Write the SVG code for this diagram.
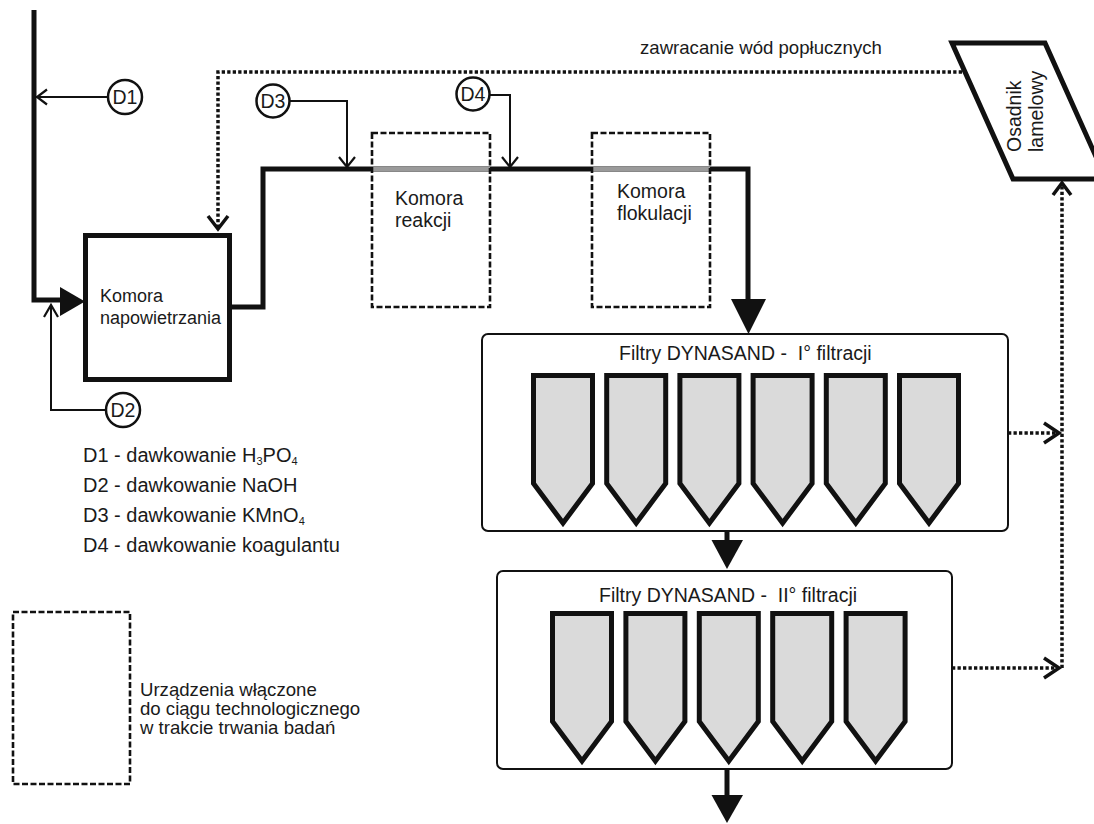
<svg xmlns="http://www.w3.org/2000/svg" xmlns:xlink="http://www.w3.org/1999/xlink" width="1094" height="824" viewBox="0 0 1094 824">
<style>
  text { font-family: "Liberation Sans", Arial, sans-serif; fill: #1a1a1a; white-space: pre; }
  .main { fill: none; stroke: #111; stroke-width: 5; stroke-linejoin: miter; }
  .gray { fill: none; stroke: #9a9a9a; stroke-width: 4; }
  .thin { fill: none; stroke: #111; stroke-width: 2; }
  .chev { fill: none; stroke: #111; stroke-width: 2.2; }
  .chevb { fill: none; stroke: #111; stroke-width: 3.5; }
  .dot { fill: none; stroke: #111; stroke-width: 3.5; stroke-dasharray: 3.3 2.2; }
  .dash { fill: none; stroke: #111; stroke-width: 2.6; stroke-dasharray: 6 2.5; }
  .tri { fill: #111; }
  .circ { fill: #fff; stroke: #111; stroke-width: 2.5; }
  .box { fill: #fff; stroke: #111; stroke-width: 5; }
  .fbox { fill: #fff; stroke: #111; stroke-width: 2; }
  .filt { fill: #dadada; stroke: #111; stroke-width: 5; stroke-linejoin: miter; }
  .lbl { font-size: 18px; }
  .lbl3 { font-size: 18.6px; }
  .leg2 { font-size: 18.6px; }
  .lbl2 { font-size: 19.5px; }
  .dl { font-size: 19.5px; text-anchor: middle; }
  .leg { font-size: 20px; }
  .sub { font-size: 11px; }
</style>
<defs>
  <path id="filter" d="M0,0 H59 V108 L29.5,147.5 L0,108 Z"/>
</defs>

<g id="legend-box">
  <rect class="dash" x="13" y="612" width="117" height="172"/>
  <text class="leg2" x="140" y="696">Urządzenia włączone</text>
  <text class="leg2" x="140" y="715">do ciągu technologicznego</text>
  <text class="leg2" x="140" y="734">w trakcie trwania badań</text>
</g>

<g id="legend-doses">
  <text class="leg" x="83" y="462">D1 - dawkowanie H<tspan class="sub" dy="3">3</tspan><tspan dy="-3">PO</tspan><tspan class="sub" dy="3">4</tspan></text>
  <text class="leg" x="83" y="492">D2 - dawkowanie NaOH</text>
  <text class="leg" x="83" y="522">D3 - dawkowanie KMnO<tspan class="sub" dy="3">4</tspan></text>
  <text class="leg" x="83" y="552">D4 - dawkowanie koagulantu</text>
</g>

<g id="connectors">
  <!-- main flow -->
  <path class="main" d="M34,10 V300 H62"/>
  <polygon class="tri" points="60,287 85,301.5 60,316"/>
  <path class="main" d="M232,307 H263 V169 H748 V300"/>
  <line class="gray" x1="373" y1="169" x2="490" y2="169"/>
  <line class="gray" x1="593" y1="169" x2="710" y2="169"/>
  <polygon class="tri" points="731,299 766,299 748.5,334"/>
  <path class="main" d="M727,531 V542"/>
  <polygon class="tri" points="711.5,540 743,540 727,569"/>
  <path class="main" d="M727,769 V797"/>
  <polygon class="tri" points="711.5,795 743,795 727,823"/>

  <!-- dosing lines -->
  <path class="thin" d="M108,97 H36"/>
  <path class="chev" d="M47,89.5 L37,97 L47,104.5"/>
  <path class="thin" d="M106,410 H51 V307"/>
  <path class="chev" d="M44,317 L51,305 L58,317"/>
  <path class="thin" d="M289,101 H347 V167"/>
  <path class="chev" d="M339,157 L347,167 L355,157"/>
  <path class="thin" d="M489,95 H510 V167"/>
  <path class="chev" d="M502,157 L510,167 L518,157"/>

  <!-- wash water return -->
  <path class="dot" d="M962,72 H218 V229"/>
  <path class="chevb" d="M208,216 L218,229 L228,216"/>
  <path class="dot" d="M1008,433 H1058"/>
  <path class="chevb" d="M1044,423 L1059,433 L1044,443"/>
  <path class="dot" d="M952,668 H1058"/>
  <path class="chevb" d="M1044,658 L1059,668 L1044,678"/>
  <path class="dot" d="M1062,668 V186"/>
  <path class="chevb" d="M1053,195 L1062,183 L1071,195"/>
  <text class="lbl3" x="640" y="54">zawracanie wód popłucznych</text>
</g>

<g id="D1">
  <circle class="circ" cx="125" cy="97" r="17"/>
  <text class="dl" x="125" y="104">D1</text>
</g>
<g id="D2">
  <circle class="circ" cx="123" cy="410" r="17"/>
  <text class="dl" x="123" y="417">D2</text>
</g>
<g id="D3">
  <circle class="circ" cx="273" cy="101" r="16.5"/>
  <text class="dl" x="273" y="108">D3</text>
</g>
<g id="D4">
  <circle class="circ" cx="473" cy="94" r="16.5"/>
  <text class="dl" x="473" y="101">D4</text>
</g>

<g id="komora-napowietrzania">
  <rect class="box" x="85.5" y="235.5" width="144" height="144"/>
  <text class="lbl" x="100" y="302">Komora</text>
  <text class="lbl" x="100" y="324">napowietrzania</text>
</g>

<g id="komora-reakcji">
  <rect class="dash" x="372" y="133" width="118" height="174"/>
  <text class="lbl2" x="395" y="205">Komora</text>
  <text class="lbl2" x="395" y="227">reakcji</text>
</g>

<g id="komora-flokulacji">
  <rect class="dash" x="592" y="133" width="118" height="174"/>
  <text class="lbl2" x="617" y="198">Komora</text>
  <text class="lbl2" x="617" y="220">flokulacji</text>
</g>

<g id="osadnik-lamelowy">
  <polygon points="952,43 1045,43 1106,179 1013,179" fill="#fff" stroke="#111" stroke-width="5"/>
  <text class="lbl2" transform="translate(1021,152) rotate(-90)">Osadnik</text>
  <text class="lbl2" transform="translate(1043,152) rotate(-90)">lamelowy</text>
</g>

<g id="filtry-I">
  <rect class="fbox" x="482" y="334" width="526" height="197" rx="6"/>
  <text class="lbl2" x="619" y="360">Filtry DYNASAND -  I° filtracji</text>
  <use xlink:href="#filter" class="filt" x="533.5" y="375.5"/>
  <use xlink:href="#filter" class="filt" x="606.7" y="375.5"/>
  <use xlink:href="#filter" class="filt" x="679.9" y="375.5"/>
  <use xlink:href="#filter" class="filt" x="753.1" y="375.5"/>
  <use xlink:href="#filter" class="filt" x="826.3" y="375.5"/>
  <use xlink:href="#filter" class="filt" x="899.5" y="375.5"/>
</g>

<g id="filtry-II">
  <rect class="fbox" x="497" y="571" width="455" height="198" rx="6"/>
  <text class="lbl2" x="599" y="602">Filtry DYNASAND -  II° filtracji</text>
  <use xlink:href="#filter" class="filt" x="552.5" y="613.5"/>
  <use xlink:href="#filter" class="filt" x="625.9" y="613.5"/>
  <use xlink:href="#filter" class="filt" x="699.3" y="613.5"/>
  <use xlink:href="#filter" class="filt" x="772.7" y="613.5"/>
  <use xlink:href="#filter" class="filt" x="846.1" y="613.5"/>
</g>
</svg>
